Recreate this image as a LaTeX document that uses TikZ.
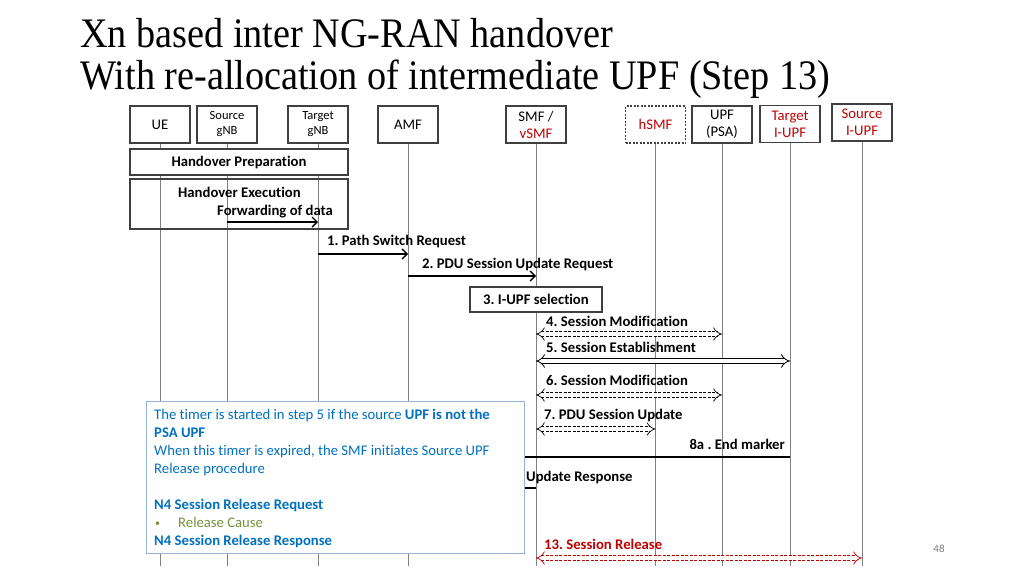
\documentclass[tikz,border=0pt]{standalone}
\usepackage{fontspec}
\usepackage{graphicx}
\setmainfont{Carlito}[Ligatures=CommonOff]
\newfontfamily\titlefont{Liberation Serif}
\usetikzlibrary{arrows.meta}
\definecolor{pptred}{RGB}{192,0,0}
\definecolor{pptblue}{RGB}{0,112,192}
\definecolor{pptgreen}{RGB}{118,146,60}
\definecolor{lifegray}{RGB}{128,128,128}
\definecolor{notebord}{RGB}{149,179,215}
\definecolor{boxbord}{RGB}{64,64,64}
\frenchspacing
\begin{document}
\begin{tikzpicture}[x=1pt,y=-1pt,
  hdr/.style={draw=boxbord, line width=1.1pt, fill=white, minimum width=60pt, minimum height=37pt, inner sep=0pt, align=center, font=\fontsize{14.7}{17}\selectfont},
  hdrs/.style={hdr, font=\fontsize{12.5}{15}\selectfont},
  life/.style={draw=lifegray, line width=0.9pt},
  lbl/.style={anchor=base west, inner sep=0pt, font=\bfseries\fontsize{14.7}{16}\selectfont},
  notetxt/.style={anchor=base west, inner sep=0pt, text=pptblue, font=\fontsize{14.7}{18}\selectfont},
  msg/.style={line width=1.4pt, -{Straight Barb[length=5pt,width=10pt]}},
  plainmsg/.style={line width=1.6pt},
  dmsg/.style={double, double distance=4pt, line width=0.7pt, dash pattern=on 3pt off 1.5pt, {Implies}-{Implies}},
  smsg/.style={double, double distance=4pt, line width=0.8pt, {Implies}-{Implies}},
  procbox/.style={draw=boxbord, line width=1.1pt, inner sep=0pt, font=\bfseries\fontsize{14.7}{16}\selectfont}
]
\useasboundingbox[fill=white] (0,0) rectangle (1024,576);

% title
\node[anchor=base west, inner sep=0pt, font=\titlefont\fontsize{42}{48}\selectfont] (t1) at (80,47) {\scalebox{0.91}[1]{Xn based inter NG-RAN handover}};
\node[anchor=base west, inner sep=0pt, font=\titlefont\fontsize{42}{48}\selectfont] (t2) at (80,89) {\scalebox{0.91}[1]{With re-allocation of intermediate UPF (Step 13)}};

% headers
\node[hdr]  (ue)   at (160,124.5) {UE};
\node[hdrs] (sg)   at (227,124.5) {Source\\gNB};
\node[hdrs] (tg)   at (318,124.5) {Target\\gNB};
\node[hdr]  (amf)  at (408,124.5) {AMF};
\node[hdr]  (smf)  at (536,124.5) {SMF /\\\textcolor{pptred}{vSMF}};
\node[hdr, dashed, dash pattern=on 2pt off 1.5pt] (hsmf) at (655.5,124.5) {\textcolor{pptred}{hSMF}};
\node[hdr]  (upf)  at (722,124.5) {UPF\\(PSA)};
\node[hdr]  (ti)   at (790,124) {\textcolor{pptred}{Target}\\\textcolor{pptred}{I-UPF}};
\node[hdr]  (si)   at (862,122.5) {\textcolor{pptred}{Source}\\\textcolor{pptred}{I-UPF}};

% lifelines
\foreach \n in {ue,sg,tg,amf,smf,hsmf,upf,ti,si}{
  \draw[life] (\n.south) -- (\n |- 0,566);
}

% handover boxes
\node[procbox, fill=white, minimum width=218pt, minimum height=26pt] (hp) at (239,162) {Handover Preparation};
\node[procbox, minimum width=218pt, minimum height=50pt] (he) at (239,204) {};
\node[lbl] (het) at (178,197) {Handover Execution};
\node[lbl] (fwt) at (217,215) {Forwarding of data};
\draw[msg] (sg |- 0,222) -- (tg |- 0,222);

% 1, 2
\node[lbl] (l1) at (327,245) {1. Path Switch Request};
\draw[msg] (tg |- 0,254) -- (amf |- 0,254);
\node[lbl] (l2) at (422,268) {2. PDU Session Update Request};
\draw[msg] (amf |- 0,276) -- (smf |- 0,276);

% 3
\node[procbox, fill=white, minimum width=132pt, minimum height=25pt] (sel) at (536,299.5) {3. I-UPF selection};

% 4-7
\node[lbl] (l4) at (546,326) {4. Session Modification};
\draw[dmsg] (smf |- 0,334) -- (upf |- 0,334);
\node[lbl] (l5) at (546,352) {5. Session Establishment};
\draw[smsg] (smf |- 0,361) -- (ti |- 0,361);
\node[lbl] (l6) at (546,385) {6. Session Modification};
\draw[dmsg] (smf |- 0,395) -- (upf |- 0,395);
\node[lbl] (l7) at (544,419) {7. PDU Session Update};
\draw[dmsg] (smf |- 0,429) -- (hsmf |- 0,429);

% 8a and update response (partly hidden by note)
\node[lbl, anchor=base east] (l8) at (785,449) {8a . End marker};
\draw[plainmsg] (ti |- 0,457) -- (sg |- 0,457);
\node[lbl] (l9) at (526,481) {Update Response};
\draw[plainmsg] (smf |- 0,488) -- (amf |- 0,488);

% note box
\node[draw=notebord, line width=1pt, fill=white, minimum width=378pt, minimum height=152pt, inner sep=0pt] (note) at (335,477) {};
\node[notetxt] (n1) at (154,419) {The timer is started in step 5 if the source \textbf{UPF is not the}};
\node[notetxt] (n2) at (154,437) {\textbf{PSA UPF}};
\node[notetxt] (n3) at (154,455) {When this timer is expired, the SMF initiates Source UPF};
\node[notetxt] (n4) at (154,473) {Release procedure};
\node[notetxt] (n5) at (154,509) {\textbf{N4 Session Release Request}};
\node[notetxt, text=pptgreen, font=\fontsize{10}{12}\selectfont] (n6a) at (155,526) {\textbullet};
\node[notetxt, text=pptgreen] (n6) at (178,527) {Release Cause};
\node[notetxt] (n7) at (154,545) {\textbf{N4 Session Release Response}};

% 13
\node[lbl, text=pptred] (l13) at (544,549) {13. Session Release};
\draw[dmsg, draw=pptred] (smf |- 0,558) -- (si |- 0,558);

% page number
\node[inner sep=0pt, text=lifegray, font=\fontsize{11}{12}\selectfont] (pg) at (939,549) {48};
\end{tikzpicture}
\end{document}
